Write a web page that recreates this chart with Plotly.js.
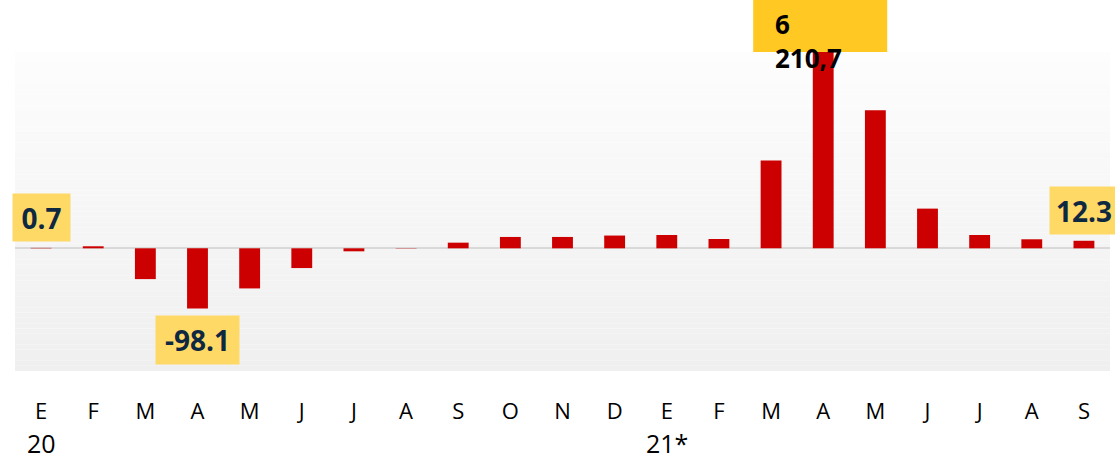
<!DOCTYPE html>
<html>
<head>
<meta charset="utf-8">
<script src="https://cdn.plot.ly/plotly-3.0.1.min.js"></script>
<style>html,body{margin:0;padding:0;background:#fff;}#chart{width:1115px;height:459px;}</style>
</head>
<body>
<div id="chart"></div>
<script>
// Data
var months = ["E","F","M","A","M","J","J","A","S","O","N","D","E","F","M","A","M","J","J","A","S"];
var values = [0.7, 3.3, -50.2, -98.1, -65.4, -32.2, -4.9, -0.5, 9.2, 18.5, 18.5, 20.8, 21.7, 15.2, 143.2, 6210.7, 225.0, 64.7, 21.7, 14.7, 12.3];
var yearLabels = [{idx: 0, text: "20"}, {idx: 12, text: "21*"}];
var labelled = [
  {idx: 0, text: "0.7", side: "above", w: 57, h: 47},
  {idx: 3, text: "-98.1", side: "below", w: 83, h: 48},
  {idx: 20, text: "12.3", side: "above", w: 68, h: 47}
];
var peakIdx = 15;
var peakText = "6<br>210,7";

var xs = months.map(function(_, i){ return i; });

var trace = {
  type: "bar",
  x: xs,
  y: values,
  width: 0.4,
  marker: {color: "#cc0000"},
  hoverinfo: "x+y"
};

// gradient background built from thin stripes
var shapes = [];
var N = 60;
for (var k = 0; k < N; k++) {
  var t = (k + 0.5) / N;
  var c = Math.round(253 - t * (253 - 239));
  shapes.push({
    type: "rect", xref: "paper", yref: "paper", layer: "below",
    x0: 0, x1: 1, y0: 1 - (k + 1) / N, y1: 1 - k / N,
    fillcolor: "rgb(" + c + "," + c + "," + c + ")", line: {width: 0}
  });
}
// peak label box
shapes.push({
  type: "rect", xref: "x", yref: "paper", layer: "above",
  xsizemode: "pixel", xanchor: peakIdx, x0: -70, x1: 64,
  ysizemode: "pixel", yanchor: 1, y0: 0, y1: 52,
  fillcolor: "#ffc823", line: {width: 0}
});

var annotations = [];
labelled.forEach(function(l){
  annotations.push({
    x: l.idx, y: values[l.idx], xref: "x", yref: "y",
    text: l.text, showarrow: false,
    yanchor: "middle", xanchor: "center",
    width: l.w, height: l.h, align: "center", valign: "middle",
    yshift: l.side === "above" ? 30 : -32,
    font: {family: "Open Sans", size: 28, color: "#0e2841", weight: "bold"},
    bgcolor: "#ffd966", borderpad: 0
  });
});
annotations.push({
  x: peakIdx, y: 1, xref: "x", yref: "paper",
  text: peakText, showarrow: false, align: "left",
  xanchor: "left", yanchor: "middle", xshift: -50, yshift: 11,
  font: {family: "Open Sans", size: 26, color: "#000000", weight: "bold"}
});
yearLabels.forEach(function(yl){
  annotations.push({
    x: yl.idx, y: 0, xref: "x", yref: "paper",
    text: yl.text, showarrow: false,
    xanchor: "center", yanchor: "middle", yshift: -72,
    height: 26, valign: "middle",
    font: {family: "Open Sans", size: 25, color: "#000000"}
  });
});

var layout = {
  width: 1115, height: 459,
  margin: {l: 15, r: 5, t: 52, b: 88},
  paper_bgcolor: "#ffffff",
  plot_bgcolor: "#ffffff",
  showlegend: false,
  bargap: 0.6,
  xaxis: {
    range: [-0.5, 20.5],
    tickvals: xs, ticktext: months,
    showgrid: false, zeroline: false, showline: false, ticks: "",
    ticklabelstandoff: 25,
    tickfont: {family: "Open Sans", size: 22, color: "#000000"}
  },
  yaxis: {
    range: [-200, 320],
    showgrid: false, showticklabels: false, ticks: "",
    zeroline: true, zerolinecolor: "#d9d9d9", zerolinewidth: 2, showline: false
  },
  shapes: shapes,
  annotations: annotations
};

Plotly.newPlot("chart", [trace], layout, {displayModeBar: false, staticPlot: true});
</script>
</body>
</html>
